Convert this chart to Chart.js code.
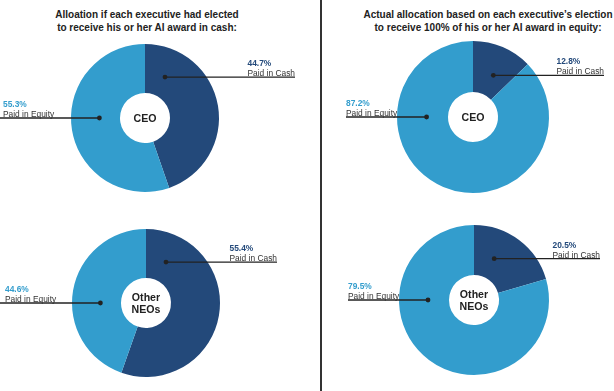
<!DOCTYPE html>
<html>
<head>
<meta charset="utf-8">
<script src="https://cdn.jsdelivr.net/npm/chart.js@4.4.0/dist/chart.umd.min.js"></script>
<style>
  body { margin: 0; width: 614px; height: 391px; overflow: hidden; background: #fff; position: relative; font-family: "Liberation Sans", Arial, sans-serif; }
  canvas { position: absolute; left: 0; top: 0; }
  .title { position: absolute; top: 9px; transform: translateX(-50%); white-space: nowrap; text-align: center; font-weight: bold; font-size: 10px; line-height: 12.5px; color: #222; }
  .divider { position: absolute; left: 320px; top: 0; width: 1.5px; height: 391px; background: #333; }
</style>
</head>
<body>
<div class="title" id="t0" style="left:147px"></div>
<div class="title" id="t1" style="left:488px"></div>
<div class="divider"></div>
<canvas id="c0" width="614" height="391"></canvas>
<canvas id="c1" width="614" height="391"></canvas>
<canvas id="c2" width="614" height="391"></canvas>
<canvas id="c3" width="614" height="391"></canvas>
<script>
// data
const groups = ['CEO', 'Other NEOs'];
const sliceLabels = ['Paid in Cash', 'Paid in Equity'];
const electedCash = [44.7, 55.4];
const electedEquity = [55.3, 44.6];
const actualCash = [12.8, 20.5];
const actualEquity = [87.2, 79.5];
const titles = [
  ['Alloation if each executive had elected', 'to receive his or her AI award in cash:'],
  ['Actual allocation based on each executive\u2019s election', 'to receive 100% of his or her AI award in equity:']
];

const navy = '#23497a';
const sky = '#339dcd';

document.getElementById('t0').innerHTML = titles[0].join('<br>');
document.getElementById('t1').innerHTML = titles[1].join('<br>');

// where each donut sits on the page + where its callouts go
const panels = [
  { canvas: 'c0', group: 0, cash: electedCash, equity: electedEquity, cx: 145, cy: 118, r: 74, cashEnd: 295, eqText: 3, eqLine: 0 },
  { canvas: 'c1', group: 0, cash: actualCash, equity: actualEquity, cx: 473, cy: 117, r: 76, cashEnd: 604, eqText: 346, eqLine: 346 },
  { canvas: 'c2', group: 1, cash: electedCash, equity: electedEquity, cx: 146, cy: 303, r: 74, cashEnd: 277, eqText: 5, eqLine: 0 },
  { canvas: 'c3', group: 1, cash: actualCash, equity: actualEquity, cx: 474, cy: 300, r: 75, cashEnd: 600, eqText: 348, eqLine: 348 }
];

const calloutPlugin = {
  id: 'callouts',
  afterDraw(chart, args, opts) {
    const ctx = chart.ctx;
    const arc = chart.getDatasetMeta(0).data[0];
    const cx = arc.x, cy = arc.y;
    const rMid = arc.innerRadius + 0.42 * (arc.outerRadius - arc.innerRadius);
    const vals = chart.data.datasets[0].data;
    const ang = 26 * Math.PI / 180;
    const cashDot = { x: cx + rMid * Math.sin(ang), y: cy - rMid * Math.cos(ang) };
    const eqDot = { x: cx - rMid, y: cy };

    ctx.save();
    ctx.strokeStyle = '#222';
    ctx.fillStyle = '#222';
    ctx.lineWidth = 1.3;
    // cash callout
    ctx.beginPath();
    ctx.moveTo(cashDot.x, cashDot.y);
    ctx.lineTo(opts.cashEnd, cashDot.y);
    ctx.stroke();
    ctx.beginPath();
    ctx.arc(cashDot.x, cashDot.y, 2.4, 0, Math.PI * 2);
    ctx.fill();
    // equity callout
    ctx.beginPath();
    ctx.moveTo(opts.eqLine, eqDot.y);
    ctx.lineTo(eqDot.x, eqDot.y);
    ctx.stroke();
    ctx.beginPath();
    ctx.arc(eqDot.x, eqDot.y, 2.4, 0, Math.PI * 2);
    ctx.fill();

    ctx.textBaseline = 'alphabetic';
    ctx.textAlign = 'left';
    ctx.font = '8.4px "Liberation Sans", Arial, sans-serif';
    const cashW = ctx.measureText(chart.data.labels[0]).width;
    const cashX = opts.cashEnd - cashW;
    ctx.fillStyle = '#333';
    ctx.fillText(chart.data.labels[0], cashX, cashDot.y - 1);
    ctx.fillText(chart.data.labels[1], opts.eqText, eqDot.y - 1);
    ctx.font = 'bold 8.4px "Liberation Sans", Arial, sans-serif';
    ctx.fillStyle = navy;
    ctx.fillText(vals[0].toFixed(1) + '%', cashX, cashDot.y - 11);
    ctx.fillStyle = sky;
    ctx.fillText(vals[1].toFixed(1) + '%', opts.eqText, eqDot.y - 11);

    // center label
    ctx.fillStyle = '#222';
    ctx.textAlign = 'center';
    ctx.textBaseline = 'middle';
    ctx.font = 'bold 10.6px "Liberation Sans", Arial, sans-serif';
    const words = opts.center.split(' ');
    const lh = 12;
    words.forEach((w, i) => {
      ctx.fillText(w, cx, cy + (i - (words.length - 1) / 2) * lh + 1);
    });
    ctx.restore();
  }
};

panels.forEach(p => {
  new Chart(document.getElementById(p.canvas), {
    type: 'doughnut',
    data: {
      labels: sliceLabels,
      datasets: [{
        data: [p.cash[p.group], p.equity[p.group]],
        backgroundColor: [navy, sky],
        borderWidth: 0
      }]
    },
    options: {
      responsive: false,
      animation: false,
      cutout: 25 / p.r * 100 + '%',
      layout: {
        padding: { left: p.cx - p.r, top: p.cy - p.r, right: 614 - p.cx - p.r, bottom: 391 - p.cy - p.r }
      },
      plugins: {
        legend: { display: false },
        tooltip: { enabled: false },
        callouts: { cashEnd: p.cashEnd, eqText: p.eqText, eqLine: p.eqLine, center: groups[p.group] }
      }
    },
    plugins: [calloutPlugin]
  });
});
</script>
</body>
</html>
